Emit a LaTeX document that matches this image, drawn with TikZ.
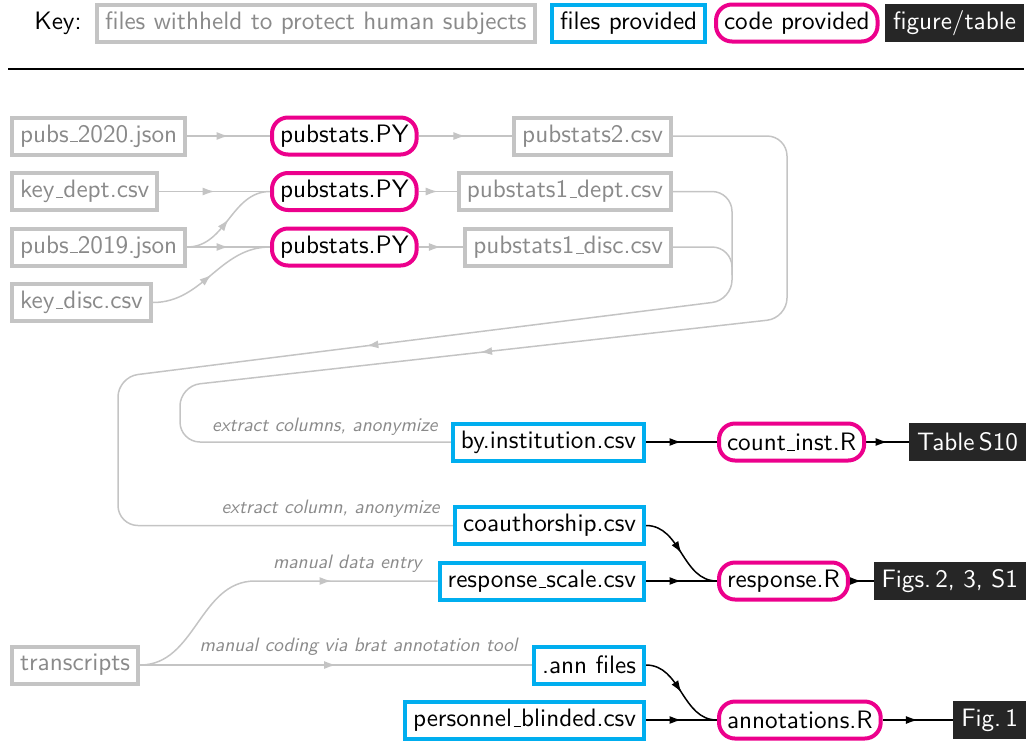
\documentclass[tikz,border=0pt]{standalone}
\usepackage{fontspec}
\setsansfont{lmsans10-regular.otf}[ItalicFont=lmsans10-oblique.otf,BoldFont=lmsans10-bold.otf]
\usetikzlibrary{arrows.meta,decorations.markings}
\pgfdeclarelayer{background}
\pgfsetlayers{background,main}
\newcommand{\us}{\leavevmode\kern.06em\vbox{\hrule width.3em}}
\definecolor{gline}{HTML}{C4C4C4}
\definecolor{gtext}{HTML}{8A8A8A}
\definecolor{fblue}{HTML}{00AEEF}
\definecolor{cmag}{HTML}{EC008C}
\definecolor{fdark}{HTML}{262626}
\tikzset{
  base/.style={font=\sffamily\fontsize{12.6}{15}\selectfont, inner xsep=4pt, inner ysep=0pt, minimum height=18.5pt, line width=2pt},
  withheld/.style={base, draw=gline, text=gtext},
  provided/.style={base, draw=fblue, text=black},
  codebox/.style={base, draw=cmag, text=black, rounded corners=8pt},
  figbox/.style={base, fill=fdark, text=white, minimum height=19pt, line width=0pt},
  plaintext/.style={font=\sffamily\fontsize{12.6}{15}\selectfont, inner sep=0pt},
  gconn/.style={draw=gline, line width=0.75pt},
  bconn/.style={draw=black, line width=0.75pt},
  midarrow/.style={postaction={decorate}, decoration={markings, mark=at position #1 with {\arrow{Latex[length=6pt,width=4pt]}}}},
  midarrow/.default=0.5,
  lbl/.style={font=\sffamily\itshape\fontsize{9.7}{11}\selectfont, text=gtext, inner sep=0pt},
}
\begin{document}
\begin{tikzpicture}[x=0.5pt,y=-0.5pt]
\useasboundingbox (0,0) rectangle (1026,740);
% key
\node[plaintext, anchor=east] (key) at (82,23) {Key:};
\node[withheld, anchor=west] (kw) at (95,23) {files withheld to protect human subjects};
\node[provided, anchor=west] (kp) at (550,23) {files provided};
\node[codebox, anchor=west] (kc) at (714,23) {code provided};
\node[figbox, anchor=east] (kf) at (1024,23) {figure/table};
\draw[line width=0.75pt] (8,69) -- (1024,69);
% inputs
\node[withheld, anchor=west] (p20) at (10,136) {pubs\us 2020.json};
\node[withheld, anchor=west] (kd) at (10,191.5) {key\us dept.csv};
\node[withheld, anchor=west] (p19) at (10,247) {pubs\us 2019.json};
\node[withheld, anchor=west] (kdi) at (10,302.5) {key\us disc.csv};
\node[codebox, anchor=west] (ps1) at (270,136) {pubstats.PY};
\node[codebox, anchor=west] (ps2) at (270,191.5) {pubstats.PY};
\node[codebox, anchor=west] (ps3) at (270,247) {pubstats.PY};
\node[withheld, anchor=east] (o2) at (673,136) {pubstats2.csv};
\node[withheld, anchor=east] (od) at (673,191.5) {pubstats1\us dept.csv};
\node[withheld, anchor=east] (oc) at (673,247) {pubstats1\us disc.csv};
% lower part
\node[provided, anchor=east] (by) at (646,442) {by.institution.csv};
\node[codebox, anchor=west] (ci) at (717,442) {count\us inst.R};
\node[figbox, anchor=east] (t10) at (1026,442) {Table\,S10};
\node[provided, anchor=east] (co) at (646,525.5) {coauthorship.csv};
\node[provided, anchor=east] (rs) at (646,581) {response\us scale.csv};
\node[codebox, anchor=west] (rr) at (717,581) {response.R};
\node[figbox, anchor=east] (f23) at (1026,581) {Figs.\,2, 3, S1};
\node[withheld, anchor=west] (tr) at (10,665) {transcripts};
\node[provided, anchor=east] (ann) at (646,665) {.ann files};
\node[provided, anchor=east] (pb) at (646,720) {personnel\us blinded.csv};
\node[codebox, anchor=west] (ar) at (717,720) {annotations.R};
\node[figbox, anchor=east] (f1) at (1026,720) {Fig.\,1};
% labels
\node[lbl, anchor=base east] (l1) at (438,431) {extract columns, anonymize};
\node[lbl, anchor=base east] (l2) at (440,513) {extract column, anonymize};
\node[lbl, anchor=base east] (l3) at (422,568) {manual data entry};
\node[lbl, anchor=base east] (l4) at (518,651) {manual coding via brat annotation tool};
\begin{pgfonlayer}{background}
\draw[gconn, midarrow] (p20.east) -- (ps1.west);
\draw[gconn, midarrow] (ps1.east) -- (o2.west);
\draw[gconn, midarrow] (kd.east) -- (ps2.west);
\draw[gconn, midarrow] (p19.east) to[out=0,in=180] (ps2.west);
\draw[gconn, midarrow] (p19.east) -- (ps3.west);
\draw[gconn, midarrow] (kdi.east) to[out=0,in=180] (ps3.west);
\draw[gconn, midarrow] (ps2.east) -- (od.west);
\draw[gconn, midarrow] (ps3.east) -- (oc.west);
\draw[gconn, rounded corners=10pt, midarrow=0.49] (o2.east) -- (787,136) -- (787,318) -- (180,386) -- (180,442) -- (by.west);
\draw[gconn, rounded corners=10pt, midarrow=0.42] (od.east) -- (732,191.5) -- (732,300) -- (118,377) -- (118,525.5) -- (co.west);
\draw[gconn, rounded corners=10pt] (oc.east) -| (732,275);
\draw[gconn, midarrow=0.68] (tr.east) to[out=0,in=180] (255,581) -- (rs.west);
\draw[gconn, midarrow] (tr.east) -- (ann.west);
\draw[bconn, midarrow] (by.east) -- (ci.west);
\draw[bconn, midarrow] (ci.east) -- (t10.west);
\draw[bconn, midarrow] (co.east) to[out=0,in=180] (rr.west);
\draw[bconn, midarrow] (rs.east) -- (rr.west);
\draw[bconn, midarrow] (rr.east) -- (f23.west);
\draw[bconn, midarrow] (ann.east) to[out=0,in=180] (ar.west);
\draw[bconn, midarrow] (pb.east) -- (ar.west);
\draw[bconn, midarrow] (ar.east) -- (f1.west);
\end{pgfonlayer}
\end{tikzpicture}
\end{document}
